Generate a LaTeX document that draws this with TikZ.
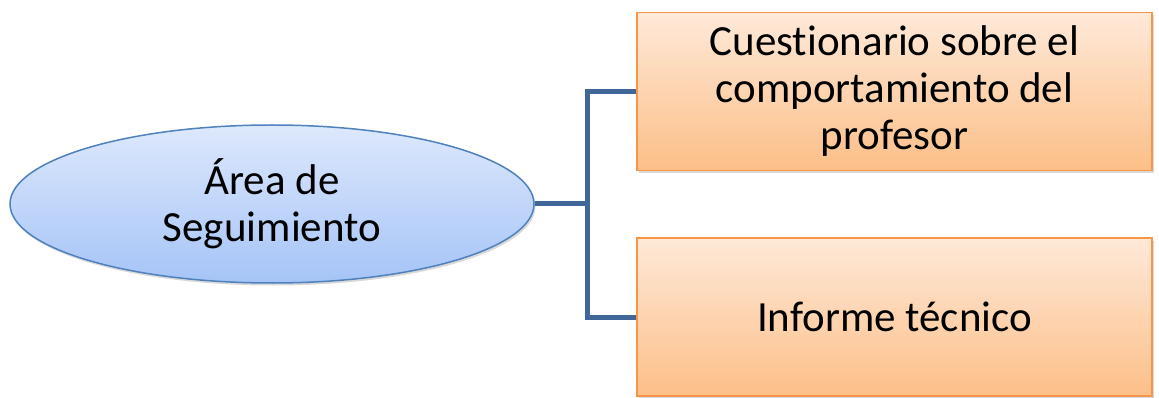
\documentclass[tikz,border=0pt]{standalone}
\usepackage{fontspec}
\setmainfont{Carlito}[Ligatures=NoCommon]
\usetikzlibrary{shadows,shapes.geometric}
\definecolor{ellfill1}{HTML}{DDE8FC}
\definecolor{ellfill2}{HTML}{A5C4F7}
\definecolor{elldraw}{HTML}{4F81BD}
\definecolor{boxfill1}{HTML}{FEE9D8}
\definecolor{boxfill2}{HTML}{FCBF88}
\definecolor{boxdraw}{HTML}{F79646}
\definecolor{linkc}{HTML}{41679A}
\begin{document}
\begin{tikzpicture}[x=1pt,y=-1pt,
  every node/.style={font=\fontsize{43}{47}\selectfont, align=center, inner sep=0pt},
  ellbox/.style={ellipse, draw=elldraw, line width=1.5pt, top color=ellfill1, bottom color=ellfill2,
     minimum width=524pt, minimum height=158pt, drop shadow={shadow xshift=1.5pt, shadow yshift=-2.5pt, opacity=0.3}},
  leafbox/.style={rectangle, draw=boxdraw, line width=1.5pt, top color=boxfill1, bottom color=boxfill2,
     minimum width=515pt, minimum height=158pt, drop shadow={shadow xshift=1.5pt, shadow yshift=-2.5pt, opacity=0.3}},
  link/.style={draw=linkc, line width=5pt, line join=miter}]
\useasboundingbox (0,0) rectangle (1159,398);
\node[ellbox] (root) at (272,204) {Área de\\Seguimiento};
\node[leafbox] (a) at (894.5,91.5) {Cuestionario sobre el\\comportamiento del\\profesor};
\node[leafbox] (b) at (894.5,317) {Informe técnico};
\coordinate (j) at (587,204);
\draw[link] (root.east) -- (j);
\draw[link] (a.west) -| (j) |- (b.west);
\end{tikzpicture}
\end{document}
